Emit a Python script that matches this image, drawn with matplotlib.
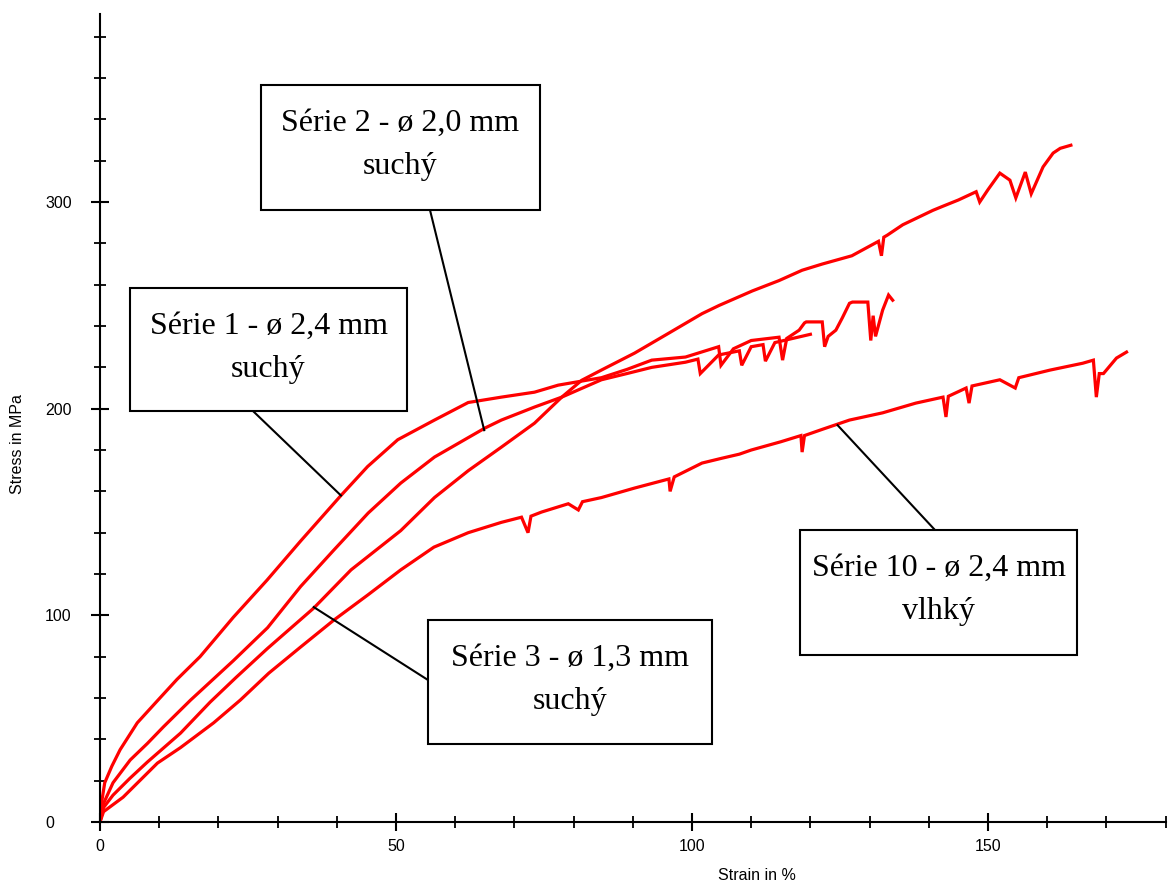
import matplotlib
matplotlib.use("Agg")
import matplotlib.pyplot as plt
from matplotlib.patches import Rectangle
from matplotlib.ticker import MultipleLocator

# ---------------- data ----------------
s1_x = [0, 0.3, 0.8, 2, 3.4, 6.3, 9.8, 13, 16.9, 22.5, 28.2, 33.9, 40.7, 45.2, 50.3,
        56.5, 62.2, 67.8, 73.4, 77.4, 84.7, 89, 93.2, 98.9, 104.5, 104.9, 107, 110,
        114.7, 115.3, 116, 118.1, 119, 119.3, 122, 122.4, 123, 124.3, 125.4, 126.6,
        127.1, 129.7, 130.2, 130.6, 131, 132.2, 133.2, 133.9]
s1_y = [0, 10, 19, 27, 35, 48, 59, 69, 80, 99, 117, 136, 158, 172, 185,
        194.5, 203, 205.6, 208, 211.4, 215, 219, 223.5, 225, 230, 221, 229, 233,
        234.6, 223.5, 234, 238, 241.5, 242, 242, 230, 235, 238, 244, 251,
        251.6, 251.6, 233, 245, 235, 247.7, 255, 252.5]

s2_x = [0, 0.6, 2.2, 5.1, 8, 10.7, 15.3, 22.5, 28.3, 33.9, 39.5, 45.3, 50.8, 56.5,
        62.2, 65, 67.8, 73.4, 78, 84.7, 89, 93.2, 98.9, 101, 101.4, 104.5, 108,
        108.4, 110, 112, 112.4, 114, 117, 120]
s2_y = [0, 9, 19, 30, 38, 46, 59, 78, 94, 114, 131.6, 149.5, 164, 176.6,
        186, 190.6, 194.5, 200.8, 205.6, 214, 217, 220, 222.5, 224, 217, 226, 228,
        221, 230, 231, 223, 232, 234, 236]

s3_x = [0, 0.6, 2.2, 5, 8, 13.6, 18.6, 23, 28.3, 36.1, 42.4, 50.8, 56.5, 62.2, 67.8,
        73.4, 78, 81.4, 84.7, 90.3, 96.1, 101.7, 104.6, 110.2, 114.7, 118.6, 122,
        127, 131.5, 132, 132.4, 133, 135.6, 140.7, 142.4, 145, 148, 148.6, 150,
        152, 153.7, 154.7, 156.3, 157.3, 159.3, 161, 162.2, 164]
s3_y = [0, 7, 13, 21, 29, 43, 58, 70, 84, 103.5, 122, 141, 157, 170, 181.4,
        193, 205.6, 213.8, 218.7, 226.9, 236.6, 246, 250, 257, 262, 267, 270,
        274, 281, 274, 283, 284, 289, 296, 298, 301, 305, 300, 306,
        314, 310.6, 302, 314.5, 304, 317, 323.7, 326, 327.5]

s10_x = [0, 0.6, 3.9, 9.7, 13.6, 19.2, 23.7, 28.5, 33.9, 39.5, 45.3, 50.8, 56.4,
         62.2, 67.8, 71.2, 72.3, 72.8, 74.6, 79.1, 80.8, 81.5, 84.7, 90.3, 96.1,
         96.3, 97, 101.7, 105, 108, 110, 115, 118.4, 118.6, 119, 122, 126.6, 132.2,
         137.8, 142.4, 142.9, 143.3, 146.3, 146.8, 147.3, 152, 154.6, 155.2, 160.5,
         166, 167.8, 168.3, 168.8, 169.5, 171.7, 173.4]
s10_y = [0, 5, 12, 28.5, 36, 48, 59, 72, 84.7, 97.7, 110, 122, 133,
         140, 145, 147.5, 140, 148, 150, 154, 151, 155, 157, 161.6, 166,
         160, 167, 173.7, 176, 178, 180, 184, 187, 179, 187, 190, 194.5, 198,
         202.7, 205.6, 196, 206, 210, 202.7, 211, 214, 210, 215, 218.7,
         222, 223.5, 205.6, 217, 217, 224.5, 227.4]

labels = [["Série 1 - ø 2,4 mm", "suchý"],
          ["Série 2 - ø 2,0 mm", "suchý"],
          ["Série 3 - ø 1,3 mm", "suchý"],
          ["Série 10 - ø 2,4 mm", "vlhký"]]
# annotation pointers end on the curves at these data points
pointer_tips = [(40.7, 158), (64.9, 189.6), (36.1, 104), (124.6, 192)]

x_label = "Strain in %"
y_label = "Stress in MPa"

# ---------------- figure ----------------
W, H = 1169, 885
fig = plt.figure(figsize=(W / 100, H / 100), dpi=100)
ax = fig.add_axes([100 / W, 1 - 822 / H, 1065.6 / W, 808 / H])
ax.set_xlim(0, 180)
ax.set_ylim(0, 391)

red = "#ff0000"
for xs, ys in [(s10_x, s10_y), (s3_x, s3_y), (s2_x, s2_y), (s1_x, s1_y)]:
    ax.plot(xs, ys, color=red, lw=2.3, solid_joinstyle="miter")

for side in ["top", "right"]:
    ax.spines[side].set_visible(False)
for side in ["left", "bottom"]:
    ax.spines[side].set_linewidth(1.5)

ax.xaxis.set_major_locator(MultipleLocator(50))
ax.xaxis.set_minor_locator(MultipleLocator(10))
ax.yaxis.set_major_locator(MultipleLocator(100))
ax.yaxis.set_minor_locator(MultipleLocator(20))
ax.tick_params(which="major", direction="inout", length=13, width=1.5)
ax.tick_params(which="minor", direction="inout", length=8, width=1.3)
ax.tick_params(axis="x", which="major", pad=6)
ax.tick_params(axis="y", which="major", pad=33)
for t in ax.get_xticklabels() + ax.get_yticklabels():
    t.set_fontfamily("Liberation Sans")
    t.set_fontsize(11.5)
for t in ax.get_yticklabels():
    t.set_horizontalalignment("left")

fig.text(757 / W, 1 - 876 / H, x_label, ha="center", va="center",
         family="Liberation Sans", fontsize=11.5)
fig.text(17.5 / W, 1 - 444 / H, y_label, ha="center", va="center",
         rotation=90, family="Liberation Sans", fontsize=11.5)

# boxes given in pixel coordinates of the reference -> data
def px2d(px, py):
    return ((px - 100) / 5.92, (822 - py) / 2.0667)

boxes_px = [(130, 288, 407, 411), (261, 85, 540, 210),
            (428, 620, 712, 744), (800, 530, 1077, 655)]
box_anchor_px = [(253, 411), (430, 210), (428, 680), (935, 530)]

for (l, t, r, b), lab, tip, anc in zip(boxes_px, labels, pointer_tips, box_anchor_px):
    x0, y0 = px2d(l, b)
    x1, y1 = px2d(r, t)
    ax.add_patch(Rectangle((x0, y0), x1 - x0, y1 - y0, facecolor="white",
                           edgecolor="black", lw=1.5, zorder=5))
    cx = (x0 + x1) / 2
    _, yb1 = px2d(0, t + 46)
    _, yb2 = px2d(0, t + 89)
    ax.text(cx, yb1, lab[0], ha="center", va="baseline", family="Liberation Serif",
            fontsize=23, zorder=6)
    ax.text(cx, yb2, lab[1], ha="center", va="baseline", family="Liberation Serif",
            fontsize=23, zorder=6)
    ax_, ay_ = px2d(*anc)
    ax.plot([ax_, tip[0]], [ay_, tip[1]], color="black", lw=1.5, zorder=4)

fig.savefig("out.png", dpi=100)
